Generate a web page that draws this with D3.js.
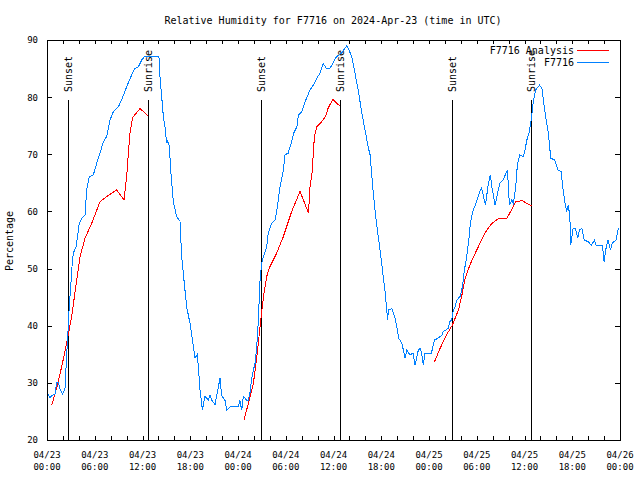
<!DOCTYPE html>
<html><head><meta charset="utf-8">
<script src="https://cdn.jsdelivr.net/npm/d3@7"></script>
<style>body{margin:0;background:#fff}svg{display:block}</style>
</head><body><svg id="c" width="640" height="480"></svg>
<script>
const chartTitle = "Relative Humidity for F7716 on 2024-Apr-23 (time in UTC)";
const yAxisLabel = "Percentage";
const startTime = "2024-04-23T00:00:00Z";
const spanHours = 72;
const yDomain = [20, 90];
const yTicks = [20, 30, 40, 50, 60, 70, 80, 90];
const seriesNames = ["F7716 Analysis", "F7716"];
const seriesColors = ["#ff0000", "#0080ff"];
const sunHours = [2.68, 12.73, 26.85, 36.86, 50.93, 60.86];
const sunLabels = ["Sunset", "Sunrise", "Sunset", "Sunrise", "Sunset", "Sunrise"];

// Analysis (red) — null marks a gap
const analysisHours = [0.59,1.21,1.84,2.47,3.1,3.73,4.15,4.78,5.61,6.66,7.5,8.75,9.68,10.01,10.22,10.43,10.77,11.69,12.73,
  18,
  24.75,25.3,25.93,26.35,26.77,27.2,27.6,28.0,28.86,29.7,30.75,31.8,32.86,33.05,33.3,33.6,33.9,34.5,35.0,35.3,35.9,36.8,
  42,
  48.7,49.3,50.2,50.93,51.7,52.1,52.5,52.9,53.5,54.4,55.0,55.9,56.8,57.8,58.9,59.7,60.3,60.9];
const analysisValues = [26.1,29.05,32.8,36.9,41.6,48.0,52.1,55.3,57.9,61.7,62.6,63.75,62.0,66.1,70.2,73.7,76.45,78.0,76.7,
  null,
  23.5,26.4,29.9,34.3,39.8,45.1,48.6,50.3,52.7,55.6,60.0,63.5,59.7,64.3,66.7,73.1,74.8,75.7,76.6,78.0,79.6,78.45,
  null,
  33.7,35.75,38.4,40.1,42.75,45.1,48.0,49.75,51.8,54.4,56.2,57.9,58.8,58.8,61.7,61.9,61.4,61.0];

// Observations (blue)
const obsHours = [0.17,0.38,0.59,1.0,1.21,1.42,1.63,1.97,2.26,2.55,2.68,2.81,2.97,3.1,3.31,3.64,4.06,4.36,4.78,4.98,
  5.32,5.82,6.24,6.66,7.08,7.5,7.92,8.34,8.96,9.38,10.01,10.64,11.06,11.48,11.9,12.31,12.52,13.99,14.07,14.2,
  14.62,14.83,15.04,15.1,15.37,15.54,15.87,16.29,16.71,16.92,17.21,17.55,17.97,18.3,18.6,18.89,19.02,19.23,19.52,19.85,
  20.27,20.48,20.69,21.11,21.74,21.95,22.37,22.58,23.0,23.41,24.04,24.25,24.46,24.67,25.09,25.3,25.5,25.7,25.93,26.14,
  26.35,26.56,26.77,26.98,27.19,27.6,27.8,28.23,28.65,28.86,29.28,29.7,29.9,30.3,30.8,31.0,31.4,31.6,32.0,32.6,
  33.05,33.46,33.9,34.3,34.7,35.1,35.6,36.0,36.4,37.0,37.65,37.86,38.3,38.7,39.1,39.5,39.96,40.4,40.6,41.0,
  41.4,41.85,42.3,42.5,42.8,42.9,43.35,43.8,44.2,44.6,45.0,45.2,45.6,46.0,46.25,46.66,46.87,47.08,47.29,47.5,
  48.3,48.7,49.1,49.3,49.6,49.8,50.2,50.43,50.6,50.85,51.06,51.27,51.5,51.9,52.2,52.45,52.74,53.0,53.2,53.5,
  53.9,54.3,54.6,54.8,55.1,55.4,55.7,55.9,56.3,56.7,56.9,57.3,57.5,57.85,57.98,58.1,58.4,58.6,58.9,59.1,
  59.4,59.85,60.05,60.3,60.6,60.9,61.1,61.4,61.9,62.2,62.5,63.0,63.3,63.8,64.2,64.6,64.85,65.1,65.3,65.5,
  65.7,65.8,66.1,66.4,66.7,66.9,67.2,67.5,68.0,68.4,68.8,69.0,69.8,70.0,70.2,70.5,70.8,71.0,71.5,71.8];
const obsValues = [28.0,27.3,27.8,28.0,30.0,30.0,29.0,28.05,29.0,36.9,40.0,43.9,46.5,49.75,52.7,53.8,57.9,58.8,59.4,63.75,
  66.1,66.4,68.4,70.2,72.2,73.1,76.0,77.45,78.3,79.5,81.8,83.9,85.05,85.3,86.5,87.2,87.2,87.2,86.9,83.6,
  76.6,74.8,71.9,72.4,71.5,67.25,61.7,59.1,58.3,52.1,48.0,43.3,40.4,37.2,34.3,35.0,32.8,28.75,25.25,27.6,
  27.0,27.9,27.0,26.2,30.8,27.8,26.9,25.25,25.8,25.9,25.9,26.9,25.2,27.6,27.0,27.0,28.2,30.5,32.25,33.4,
  36.3,41.0,48.0,50.9,52.1,53.8,56.2,57.9,58.5,60.0,64.3,67.25,69.9,70.2,72.5,73.7,74.8,76.9,77.45,79.8,
  81.25,82.1,83.3,84.2,85.9,85.05,85.1,86.2,87.1,87.7,88.95,88.5,87.1,84.2,81.25,77.75,74.25,71.0,69.9,63.2,
  57.9,53.25,48.0,45.7,41.0,42.75,43.0,41.0,37.8,36.9,34.3,35.75,34.9,35.2,33.1,35.75,36.0,35.2,33.1,35.2,
  35.2,37.5,37.8,38.0,38.3,39.0,39.3,39.6,40.7,41.0,42.75,43.3,44.5,45.1,46.8,49.75,52.1,55.0,57.9,60.0,
  61.4,63.2,64.05,62.9,61.1,64.3,66.4,64.3,61.1,63.75,64.9,65.5,66.1,67.25,64.3,61.1,62.0,61.4,64.3,68.1,
  69.9,69.6,70.7,72.5,73.9,76.6,79.2,81.25,82.1,81.5,78.0,73.7,69.3,69.0,67.25,67.0,63.75,61.4,60.0,61.1,
  59.1,54.1,57.05,57.05,55.3,56.75,57.05,55.0,54.7,54.1,55.0,54.1,54.1,51.2,53.25,55.0,53.25,54.4,55.0,57.05];

const FONT = "'DejaVu Sans Mono', 'Liberation Mono', monospace";
const svg = d3.select("#c");
const L = 47, R = 620, T = 40, B = 440;
const t0 = new Date(startTime);
const hourToDate = h => new Date(t0.getTime() + h * 3600e3);
const x = d3.scaleUtc().domain([t0, hourToDate(spanHours)]).range([L, R]);
const y = d3.scaleLinear().domain(yDomain).range([B, T]);

svg.append("rect").attr("width", 640).attr("height", 480).attr("fill", "#fff");

// title
svg.append("text").attr("x", 333).attr("y", 24).attr("text-anchor", "middle")
  .style("font-family", FONT).style("font-size", "10px").text(chartTitle);

// y label
svg.append("text").attr("transform", "translate(13,241) rotate(-90)").attr("text-anchor", "middle")
  .style("font-family", FONT).style("font-size", "10px").text(yAxisLabel);

const tickVals = d3.utcHour.every(2).range(t0, hourToDate(spanHours + 0.01));
const labelVals = d3.utcHour.every(6).range(t0, hourToDate(spanHours + 0.01));

const gx = svg.append("g").attr("transform", `translate(0,${B})`)
  .call(d3.axisBottom(x).tickValues(tickVals).tickSize(-4).tickFormat(""));
const gxt = svg.append("g").attr("transform", `translate(0,${T})`)
  .call(d3.axisTop(x).tickValues(tickVals).tickSize(-4).tickFormat(""));
const gy = svg.append("g").attr("transform", `translate(${L},0)`)
  .call(d3.axisLeft(y).tickValues(yTicks).tickSize(-5).tickPadding(9).tickFormat(d3.format("d")));
const gyr = svg.append("g").attr("transform", `translate(${R},0)`)
  .call(d3.axisRight(y).tickValues(yTicks).tickSize(-5).tickFormat(""));
[gx, gxt, gy, gyr].forEach(g => {
  g.select(".domain").remove();
  g.selectAll("line").attr("stroke", "#000").attr("shape-rendering", "crispEdges");
});
gy.selectAll("text").style("font-family", FONT).style("font-size", "9px").attr("fill", "#000");

const fmtD = d3.utcFormat("%m/%d"), fmtT = d3.utcFormat("%H:%M");
const lab = svg.append("g").style("font-family", FONT).style("font-size", "9px");
labelVals.forEach(d => {
  const t = lab.append("text").attr("text-anchor", "middle").attr("x", x(d));
  t.append("tspan").attr("x", x(d)).attr("y", 458).text(fmtD(d));
  t.append("tspan").attr("x", x(d)).attr("y", 470).text(fmtT(d));
});

// border
svg.append("rect").attr("x", L + 0.5).attr("y", T + 0.5).attr("width", R - L).attr("height", B - T)
  .attr("fill", "none").attr("stroke", "#000").attr("shape-rendering", "crispEdges");

// sun lines
sunHours.forEach((h, i) => {
  const xx = Math.round(x(hourToDate(h))) + 0.5;
  svg.append("line").attr("x1", xx).attr("x2", xx).attr("y1", 100).attr("y2", B)
    .attr("stroke", "#000").attr("shape-rendering", "crispEdges");
  svg.append("text").attr("transform", `translate(${xx + 3.5},92) rotate(-90)`)
    .style("font-family", FONT).style("font-size", "10px").text(sunLabels[i]);
});

// series
const line = d3.line().defined(d => d.v != null).x(d => x(hourToDate(d.h))).y(d => y(d.v));
const analysis = analysisHours.map((h, i) => ({ h, v: analysisValues[i] }));
const obs = obsHours.map((h, i) => ({ h, v: obsValues[i] }));
svg.append("path").datum(analysis).attr("d", line).attr("fill", "none")
  .attr("stroke", seriesColors[0]).attr("stroke-width", 1).attr("shape-rendering", "crispEdges");
svg.append("path").datum(obs).attr("d", line).attr("fill", "none")
  .attr("stroke", seriesColors[1]).attr("stroke-width", 1).attr("shape-rendering", "crispEdges");

// legend
const leg = svg.append("g").style("font-family", FONT).style("font-size", "10px");
seriesNames.forEach((n, i) => {
  const ly = 50.5 + i * 12;
  leg.append("text").attr("x", 574).attr("y", ly + 3.7).attr("text-anchor", "end").text(n);
  leg.append("line").attr("x1", 577).attr("x2", 609).attr("y1", ly).attr("y2", ly)
    .attr("stroke", seriesColors[i]).attr("shape-rendering", "crispEdges");
});
</script></body></html>
